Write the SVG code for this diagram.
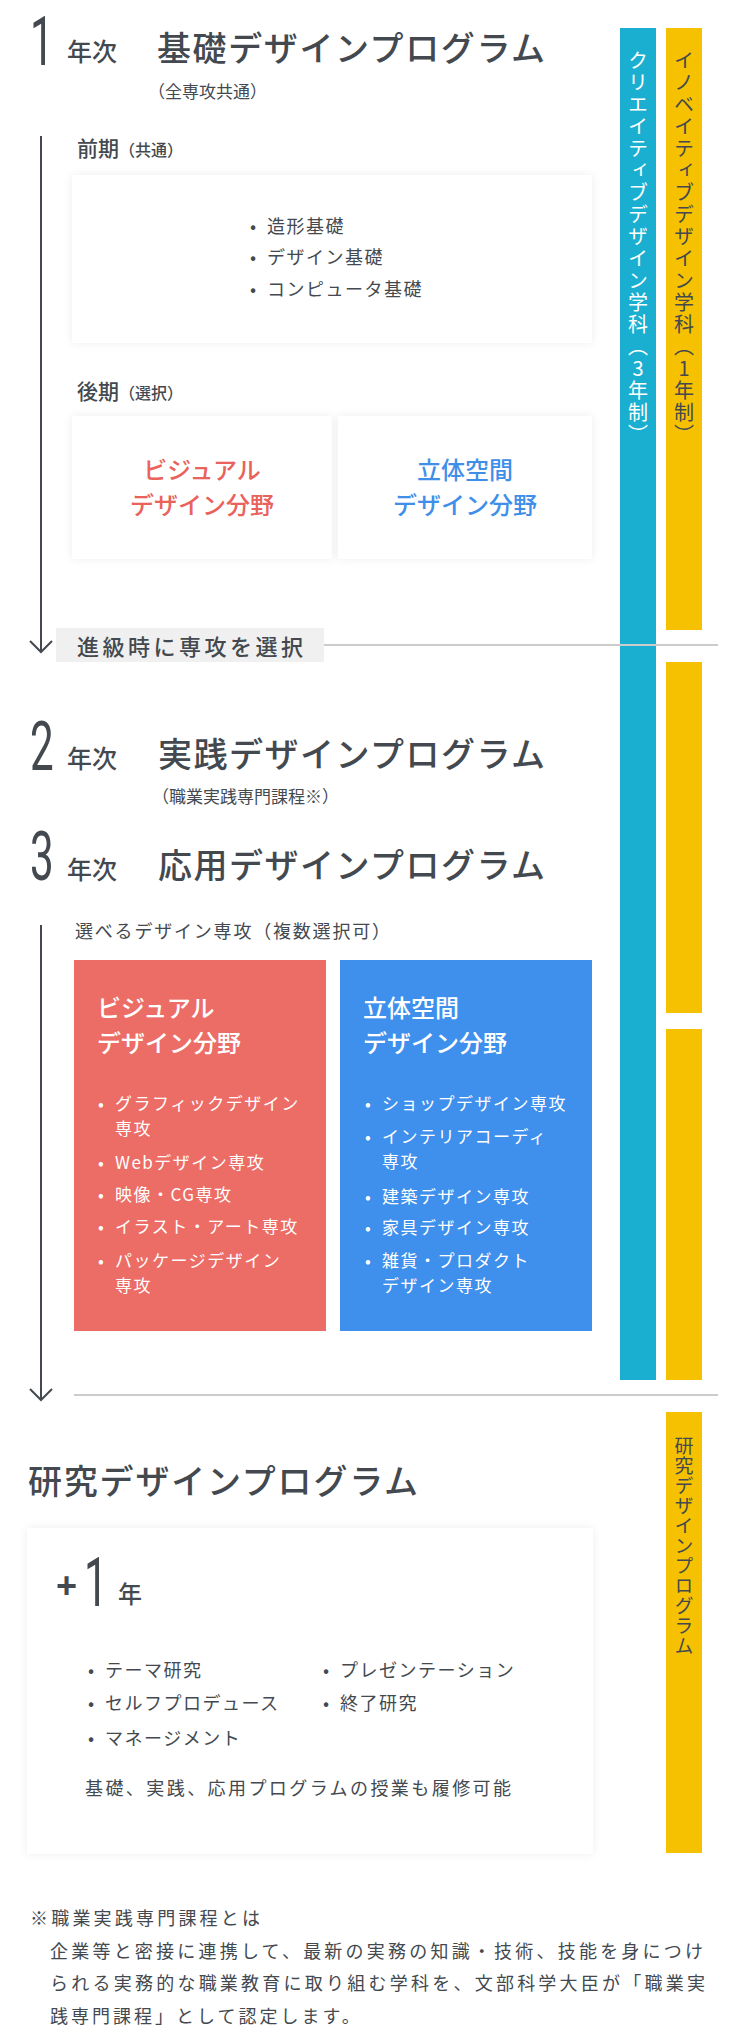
<svg xmlns="http://www.w3.org/2000/svg" width="730" height="2030" viewBox="0 0 730 2030">
<defs>
<style>
text{font-family:"Noto Sans CJK JP","Noto Sans",sans-serif;fill:#43494f}
.digit{font-family:Roboto,"Liberation Sans",sans-serif;font-size:68px}
.nen{font-size:25px;font-weight:500}
.title{font-size:34px;font-weight:500}
.sub{font-size:17px}
.b18{font-size:18px;letter-spacing:1.5px}
.w{fill:#fff}
.wt{fill:#fff;font-size:24px;font-weight:500}
.wb{fill:#fff;font-size:17px;letter-spacing:1.5px}
.vt{writing-mode:vertical-rl;text-orientation:upright;font-size:20px;letter-spacing:2px}
.card{fill:#fff;filter:url(#sh)}
.rule{stroke:#cccccc;stroke-width:2}
.flow{stroke:#43494f;stroke-width:2;fill:none}
</style>
<filter id="sh" x="-5%" y="-10%" width="110%" height="120%">
<feDropShadow dx="0" dy="0" stdDeviation="4" flood-color="#000" flood-opacity="0.07"/>
</filter>
</defs>

<g id="bars">
<rect x="620" y="28" width="36" height="1352" fill="#1aafd0"/>
<rect x="666" y="28" width="36" height="602" fill="#f6c100"/>
<rect x="666" y="662" width="36" height="351" fill="#f6c100"/>
<rect x="666" y="1029" width="36" height="351" fill="#f6c100"/>
<rect x="666" y="1412" width="36" height="441" fill="#f6c100"/>
<text class="vt w" x="638" y="50">クリエイティブデザイン学科（3年制）</text>
<text class="vt" x="684" y="50">イノベイティブデザイン学科（1年制）</text>
<text class="vt" x="684" y="1436" style="font-size:19px;letter-spacing:1px">研究デザインプログラム</text>
</g>

<g id="connectors">
<path class="flow" d="M41 136V652M30 641L41 652L52 641"/>
<path class="flow" d="M41 925V1400M30 1389L41 1400L52 1389"/>
<line class="rule" x1="324" y1="645" x2="718" y2="645"/>
<line class="rule" x1="74" y1="1395" x2="718" y2="1395"/>
</g>

<g id="year1">
<text class="digit" x="0" y="65" transform="translate(30 0) scale(0.62 1)">1</text>
<text class="nen" x="67" y="61">年次</text>
<text class="title" x="157" y="61" textLength="388">基礎デザインプログラム</text>
<text class="sub" x="148" y="98">（全専攻共通）</text>
</g>

<g id="zenki">
<text x="77" y="156" style="font-size:21px;font-weight:500">前期<tspan style="font-size:16px">（共通）</tspan></text>
<rect class="card" x="72" y="175" width="520" height="168"/>
<text class="b18" x="250" y="233">•</text><text class="b18" x="267" y="233">造形基礎</text>
<text class="b18" x="250" y="264">•</text><text class="b18" x="267" y="264">デザイン基礎</text>
<text class="b18" x="250" y="296">•</text><text class="b18" x="267" y="296">コンピュータ基礎</text>
</g>

<g id="kouki">
<text x="77" y="399" style="font-size:21px;font-weight:500">後期<tspan style="font-size:16px">（選択）</tspan></text>
<rect class="card" x="72" y="416" width="260" height="143"/>
<rect class="card" x="338" y="416" width="254" height="143"/>
<text x="202" y="479" text-anchor="middle" style="font-size:24px;font-weight:500;fill:#e9625b">ビジュアル</text>
<text x="202" y="514" text-anchor="middle" style="font-size:24px;font-weight:500;fill:#e9625b">デザイン分野</text>
<text x="465" y="479" text-anchor="middle" style="font-size:24px;font-weight:500;fill:#3f8fe9">立体空間</text>
<text x="465" y="514" text-anchor="middle" style="font-size:24px;font-weight:500;fill:#3f8fe9">デザイン分野</text>
</g>

<g id="select">
<rect x="56" y="628" width="268" height="34" fill="#f0f0f0"/>
<text x="77" y="655" textLength="226" style="font-size:22px;font-weight:500">進級時に専攻を選択</text>
</g>

<g id="year2">
<text class="digit" x="0" y="770" transform="translate(30 0) scale(0.62 1)">2</text>
<text class="nen" x="67" y="768">年次</text>
<text class="title" x="158" y="767" textLength="387">実践デザインプログラム</text>
<text class="sub" x="152" y="803">（職業実践専門課程※）</text>
</g>

<g id="year3">
<text class="digit" x="0" y="880" transform="translate(30 0) scale(0.62 1)">3</text>
<text class="nen" x="67" y="879">年次</text>
<text class="title" x="158" y="878" textLength="387">応用デザインプログラム</text>
<text x="75" y="938" textLength="315" style="font-size:18px">選べるデザイン専攻（複数選択可）</text>
</g>

<g id="visual">
<rect x="74" y="960" width="252" height="371" fill="#ec6c66"/>
<text class="wt" x="97" y="1017">ビジュアル</text>
<text class="wt" x="97" y="1052">デザイン分野</text>
<text class="wb" x="98" y="1110">•</text><text class="wb" x="115" y="1110">グラフィックデザイン</text>
<text class="wb" x="115" y="1135">専攻</text>
<text class="wb" x="98" y="1169">•</text><text class="wb" x="115" y="1169">Webデザイン専攻</text>
<text class="wb" x="98" y="1201">•</text><text class="wb" x="115" y="1201">映像・CG専攻</text>
<text class="wb" x="98" y="1233">•</text><text class="wb" x="115" y="1233">イラスト・アート専攻</text>
<text class="wb" x="98" y="1267">•</text><text class="wb" x="115" y="1267">パッケージデザイン</text>
<text class="wb" x="115" y="1292">専攻</text>
</g>

<g id="spatial">
<rect x="340" y="960" width="252" height="371" fill="#3f8fec"/>
<text class="wt" x="363" y="1017">立体空間</text>
<text class="wt" x="363" y="1052">デザイン分野</text>
<text class="wb" x="365" y="1110">•</text><text class="wb" x="382" y="1110">ショップデザイン専攻</text>
<text class="wb" x="365" y="1143">•</text><text class="wb" x="382" y="1143">インテリアコーディ</text>
<text class="wb" x="382" y="1168">専攻</text>
<text class="wb" x="365" y="1203">•</text><text class="wb" x="382" y="1203">建築デザイン専攻</text>
<text class="wb" x="365" y="1234">•</text><text class="wb" x="382" y="1234">家具デザイン専攻</text>
<text class="wb" x="365" y="1267">•</text><text class="wb" x="382" y="1267">雑貨・プロダクト</text>
<text class="wb" x="382" y="1292">デザイン専攻</text>
</g>

<g id="research">
<text class="title" x="28" y="1494" textLength="390">研究デザインプログラム</text>
<rect class="card" x="27" y="1528" width="566" height="326"/>
<text x="56" y="1598" style="font-family:'Liberation Sans',sans-serif;font-size:36px;font-weight:bold">+</text>
<text class="digit" x="0" y="1606" transform="translate(84 0) scale(0.62 1)">1</text>
<text x="118" y="1603" style="font-size:24px;font-weight:500">年</text>
<text class="b18" x="88" y="1677">•</text><text class="b18" x="105" y="1677">テーマ研究</text>
<text class="b18" x="88" y="1710">•</text><text class="b18" x="105" y="1710">セルフプロデュース</text>
<text class="b18" x="88" y="1745">•</text><text class="b18" x="105" y="1745">マネージメント</text>
<text class="b18" x="323" y="1677">•</text><text class="b18" x="340" y="1677">プレゼンテーション</text>
<text class="b18" x="323" y="1710">•</text><text class="b18" x="340" y="1710">終了研究</text>
<text x="85" y="1795" textLength="426" style="font-size:18px">基礎、実践、応用プログラムの授業も履修可能</text>
</g>

<g id="footnote">
<text x="30" y="1925" textLength="230" style="font-size:18px">※職業実践専門課程とは</text>
<text x="50" y="1958" textLength="653" style="font-size:18px">企業等と密接に連携して、最新の実務の知識・技術、技能を身につけ</text>
<text x="50" y="1990" textLength="655" style="font-size:18px">られる実務的な職業教育に取り組む学科を、文部科学大臣が「職業実</text>
<text x="50" y="2023" style="font-size:18px;letter-spacing:3px">践専門課程」として認定します。</text>
</g>
</svg>
